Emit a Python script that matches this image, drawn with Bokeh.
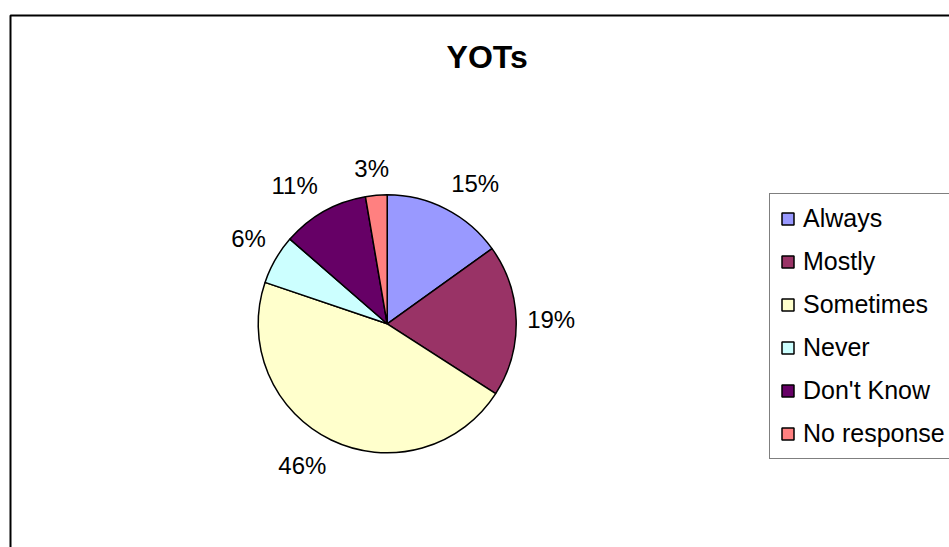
import math
from bokeh.plotting import figure
from bokeh.models import (ColumnDataSource, Range1d, Legend, LegendItem, Label,
                          BoxAnnotation)
from bokeh.embed import file_html
from bokeh.resources import INLINE
from bokeh.core.properties import value

# ---- data ----
categories = ["Always", "Mostly", "Sometimes", "Never", "Don't Know", "No response"]
percents = [15.1, 19.0, 46.1, 6.2, 10.9, 2.7]
colors = ["#9999FF", "#993366", "#FFFFCC", "#CCFFFF", "#660066", "#FF8080"]
title_text = "YOTs"

# ---- layout (pixels == data units) ----
W, H = 949, 547
CX, CY, R = 386.7, H - 323.3, 129.0
FONT = "Liberation Sans"
LABEL_PX = 24

p = figure(width=W, height=H, output_backend="svg", toolbar_location=None,
           x_range=Range1d(0, W), y_range=Range1d(0, H),
           x_axis_type=None, y_axis_type=None, min_border=0)
p.outline_line_color = None
p.grid.visible = False
p.background_fill_color = "white"
p.border_fill_color = "white"

# chart border (right/bottom run off the page as in the reference)
p.add_layout(BoxAnnotation(left=10, right=W + 30, bottom=-40, top=H - 15,
                           fill_color=None, fill_alpha=0,
                           line_color="black", line_alpha=1.0, line_width=2))

total = sum(percents)
starts, ends, lx, ly, labels = [], [], [], [], []
cum = 0.0
clamp = lambda u: max(-1.0, min(1.0, u))
for v in percents:
    a0 = math.pi / 2 - 2 * math.pi * cum / total
    a1 = math.pi / 2 - 2 * math.pi * (cum + v) / total
    starts.append(a0)
    ends.append(a1)
    am = (a0 + a1) / 2
    txt = f"{round(v)}%"
    labels.append(txt)
    nd = len(txt) - 1
    half_w = (nd * 0.556 + 0.889) * LABEL_PX / 2
    dx, dy = math.cos(am), math.sin(am)
    rr = R + 11
    lx.append(CX + rr * dx + half_w * clamp(2.5 * dx))
    ly.append(CY + rr * dy + 16 * clamp(2.5 * dy))
    cum += v

items = []
for i, cat in enumerate(categories):
    src = ColumnDataSource(dict(x=[CX], y=[CY], s=[starts[i]], e=[ends[i]]))
    r = p.wedge(x="x", y="y", radius=R, start_angle="s", end_angle="e",
                direction="clock", source=src, fill_color=colors[i],
                line_color="black", line_width=1.5)
    items.append(LegendItem(label=cat, renderers=[r]))

lab_src = ColumnDataSource(dict(x=lx, y=ly, t=labels))
p.text(x="x", y="y", text="t", source=lab_src, text_align="center",
       text_baseline="middle", text_font=value(FONT),
       text_font_size=f"{LABEL_PX}px", text_color="black")

p.add_layout(Label(x=486.7, y=H - 56, text=title_text, text_align="center",
                   text_baseline="alphabetic", text_font=FONT,
                   text_font_size="32px", text_font_style="bold",
                   text_color="black"))

legend = Legend(items=items, location=(769, 88), orientation="vertical",
                padding=10, spacing=14, label_height=23, glyph_width=15,
                glyph_height=15, label_standoff=8, margin=0,
                label_text_font=FONT, label_text_font_size="25px",
                label_text_color="black", border_line_color="black",
                border_line_width=1, background_fill_color="white",
                background_fill_alpha=1.0)
p.add_layout(legend, "center")

with open("out.html", "w") as f:
    f.write(file_html(p, INLINE))
